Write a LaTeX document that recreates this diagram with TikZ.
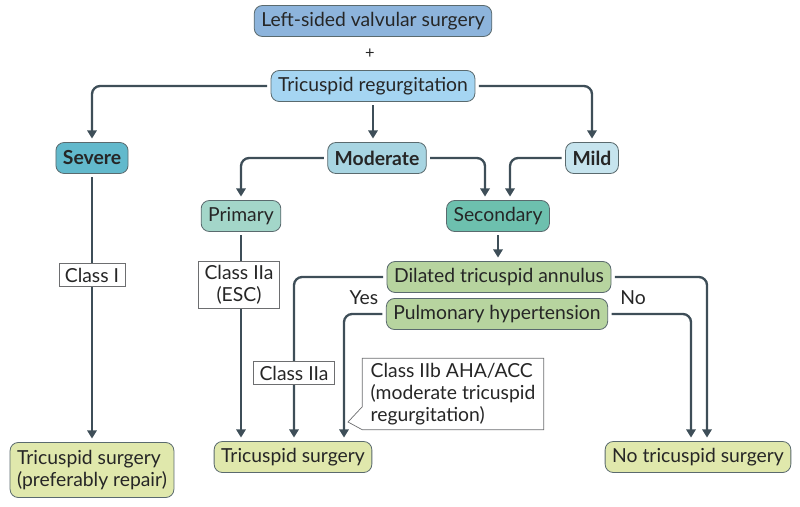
\documentclass[tikz,border=0pt]{standalone}
\usepackage{fontspec}
\setmainfont{Lato}
\usepackage{xcolor}
\usetikzlibrary{positioning,calc,arrows.meta,backgrounds}

\definecolor{topblue}{HTML}{8DB4DC}
\definecolor{regblue}{HTML}{A5D5F2}
\definecolor{sevblue}{HTML}{62B9CC}
\definecolor{modblue}{HTML}{A8D5E2}
\definecolor{mildblue}{HTML}{C6E4EE}
\definecolor{primgreen}{HTML}{A3D6C9}
\definecolor{secgreen}{HTML}{6DC0AE}
\definecolor{askgreen}{HTML}{B7D49F}
\definecolor{endgreen}{HTML}{E0E8AC}
\definecolor{boxline}{HTML}{5A6A6E}
\definecolor{flowline}{HTML}{3E4E58}
\definecolor{classline}{HTML}{6D6E70}

\tikzset{
  txt/.style={font=\fontsize{16.5}{19}\selectfont, text=black!85},
  box/.style={txt, draw=boxline, line width=0.7pt, rounded corners=7pt, minimum height=0.93cm,
    inner xsep=6pt},
  boldbox/.style={box, font=\fontsize{16.5}{19}\selectfont\bfseries},
  classbox/.style={txt, draw=classline, line width=0.6pt, fill=white, inner xsep=5pt, inner ysep=3.5pt},
  flow/.style={draw=flowline, line width=2pt, rounded corners=7pt, -{Triangle[length=7pt,width=8pt]},
    shorten <=3pt, shorten >=3pt}
}

\begin{document}
\begin{tikzpicture}[x=0.03cm, y=-0.03cm]
    \useasboundingbox (0,0) rectangle (800,507);

    \node (lsvs) [box, fill=topblue] at (373,21) {Left-sided valvular surgery};
    \node (plus) [txt, font=\fontsize{14}{16}\selectfont] at (370,54) {+};
    \node (trg) [box, fill=regblue] at (373,86) {Tricuspid regurgitation};

    \node (sev) [boldbox, fill=sevblue] at (92,158) {Severe};
    \node (mod) [boldbox, fill=modblue] at (377,158) {Moderate};
    \node (mild) [boldbox, fill=mildblue] at (592,158) {Mild};

    \node (prim) [box, fill=primgreen] at (241,216) {Primary};
    \node (sec) [box, fill=secgreen] at (498,216) {Secondary};

    \node (dil) [box, fill=askgreen] at (499,277) {Dilated tricuspid annulus};
    \node (pul) [box, fill=askgreen] at (497,314) {Pulmonary hypertension};

    \node (tsr) [box, fill=endgreen, align=left, minimum height=1.65cm] at (92,470)
        {Tricuspid surgery\\(preferably repair)};
    \node (ts) [box, fill=endgreen] at (293,457) {Tricuspid surgery};
    \node (nts) [box, fill=endgreen] at (698,457) {No tricuspid surgery};

    \node (yes) [txt] at (364,298) {Yes};
    \node (no) [txt] at (633,298) {No};

    \draw[flow] (trg.west) -| (sev.north);
    \draw[flow] (trg.south) -- (trg.south |- mod.north);
    \draw[flow] (trg.east) -| (mild.north);
    \draw[flow] (mod.west) -| (prim.north);
    \draw[flow] (mod.east) -| ([xshift=-13*0.03cm]sec.north);
    \draw[flow] (mild.west) -| ([xshift=12*0.03cm]sec.north);
    \draw[flow] (sec.south) -- (sec.south |- dil.north);
    \draw[flow] (sev.south) -- (tsr.north);
    \draw[flow] (prim.south) -- (prim.south |- ts.north);
    \draw[flow] (dil.west) -| ([xshift=1*0.03cm]ts.north);
    \draw[flow] (pul.west) -| ([xshift=51*0.03cm]ts.north);
    \draw[flow] (dil.east) -| ([xshift=9*0.03cm]nts.north);
    \draw[flow] (pul.east) -| ([xshift=-7*0.03cm]nts.north);

    \node (c1) [classbox] at (92,275) {Class I};
    \node (c2a) [classbox, align=center] at (239,285) {Class IIa\\(ESC)};
    \node (c2b) [classbox] at (294,373) {Class IIa};

    % callout with pointer towards the Pulmonary hypertension arrow
    \node (c3) [txt, align=left, inner xsep=5pt, minimum width=5.43cm, minimum height=2.13cm]
        at (453,394) {Class IIb AHA/ACC\\(moderate tricuspid\\regurgitation)};
    \coordinate (tip) at (348,422);
    \begin{pgfonlayer}{background}
    \draw[classline, line width=0.6pt, fill=white]
        (c3.north west) -- (c3.north east) -- (c3.south east) -- (c3.south west) -- (tip)
        -- ($(c3.south west)+(0,23*0.03cm)$) -- cycle;
    \end{pgfonlayer}
\end{tikzpicture}
\end{document}
